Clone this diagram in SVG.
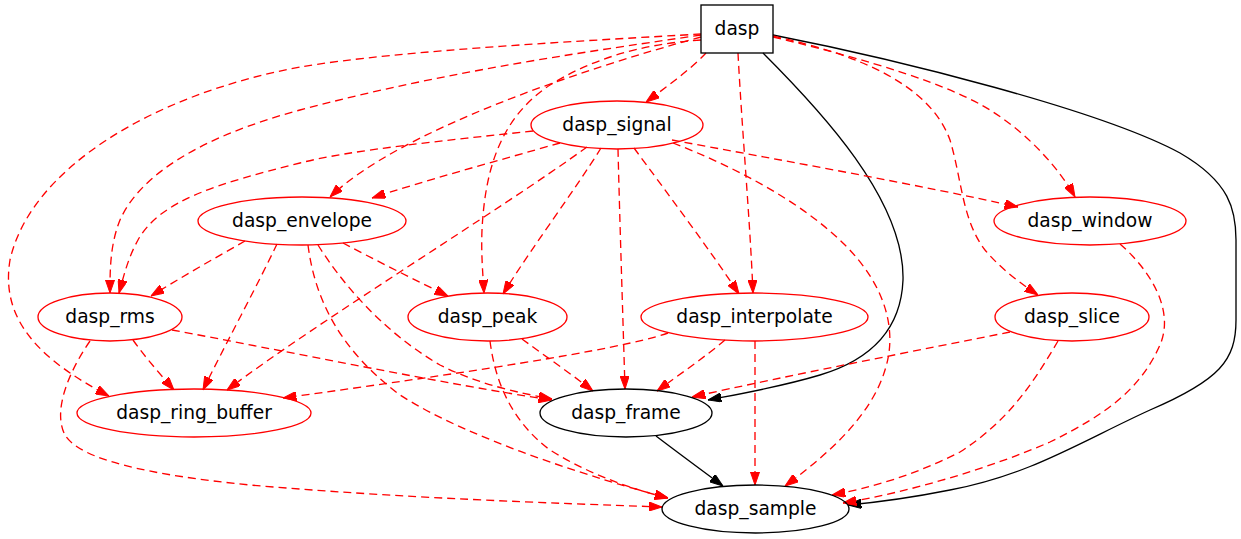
<svg xmlns="http://www.w3.org/2000/svg" width="1241" height="539" viewBox="0 0 1241 539">
<style>
text{font-family:"DejaVu Sans","Liberation Sans",sans-serif;font-size:18.67px;text-anchor:middle;fill:#000}
.r{fill:none;stroke:#ff0000;stroke-width:1.33}
.k{fill:none;stroke:#000;stroke-width:1.33}
.er{fill:none;stroke:#ff0000;stroke-width:1.33;stroke-dasharray:8,5;marker-end:url(#ar)}
.ek{fill:none;stroke:#000;stroke-width:1.33;marker-end:url(#ak)}
</style>
<defs>
<marker id="ar" viewBox="0 0 13.33 9.33" markerUnits="userSpaceOnUse" markerWidth="13.33" markerHeight="9.33" refX="13.33" refY="4.67" orient="auto">
<path d="M0,0 L13.33,4.67 L0,9.33 z" fill="#ff0000" stroke="#ff0000" stroke-width="1"/>
</marker>
<marker id="ak" viewBox="0 0 13.33 9.33" markerUnits="userSpaceOnUse" markerWidth="13.33" markerHeight="9.33" refX="13.33" refY="4.67" orient="auto">
<path d="M0,0 L13.33,4.67 L0,9.33 z" fill="#000" stroke="#000" stroke-width="1"/>
</marker>
</defs>
<rect width="1241" height="539" fill="#fff"/>
<g id="connectors">
<path class="er" d="M706,53 C690,70 665,88 646,102"/>
<path class="er" d="M701,37 C580,70 400,130 330,197"/>
<path class="er" d="M701,35 C600,50 450,70 300,110 C200,137 140,175 120,220 C110,245 110,270 110,293"/>
<path class="er" d="M701,34 C600,40 400,50 300,67 C150,95 30,170 10,260 C0,320 40,360 109,396"/>
<path class="er" d="M701,40 C640,44 590,60 550,85 C500,118 485,170 482,230 C481,255 483,275 484,293"/>
<path class="er" d="M738,53 C742,130 750,220 753,293"/>
<path class="ek" d="M763,53 C820,110 905,200 903,280 C901,330 870,360 820,375 C780,387 745,393 708,400"/>
<path class="ek" d="M773,35 C900,60 1100,110 1180,153 C1230,182 1236,210 1236,240 L1236,320 C1236,360 1220,380 1150,410 C1080,442 1030,475 950,490 C910,498 880,502 848,505"/>
<path class="er" d="M773,37 C870,60 950,85 990,110 C1030,135 1060,170 1075,197"/>
<path class="er" d="M773,36 C860,55 930,85 950,140 C962,180 962,220 985,250 C1000,268 1020,283 1038,295"/>
<path class="er" d="M560,143 C500,160 420,182 372,198"/>
<path class="er" d="M533,131 C450,140 350,150 300,163 C220,183 160,200 138,240 C128,258 124,275 119,293"/>
<path class="er" d="M587,147 C500,210 320,320 227,390"/>
<path class="er" d="M601,148 C575,190 530,250 503,294"/>
<path class="er" d="M618,149 C620,230 623,320 625,389"/>
<path class="er" d="M634,148 C665,190 710,250 739,294"/>
<path class="er" d="M672,140 C780,160 920,185 1018,207"/>
<path class="er" d="M673,143 C730,165 800,200 845,245 C885,285 898,330 885,370 C870,420 820,460 785,486"/>
<path class="er" d="M245,241 C215,258 180,278 151,296"/>
<path class="er" d="M277,244 C255,290 225,345 203,390"/>
<path class="er" d="M343,243 C375,260 415,280 448,296"/>
<path class="er" d="M318,245 C340,280 380,330 440,365 C480,385 520,393 552,399"/>
<path class="er" d="M308,245 C315,300 340,350 400,395 C470,440 600,480 668,498"/>
<path class="er" d="M133,340 C145,357 160,374 174,390"/>
<path class="er" d="M172,330 C280,350 450,385 552,400"/>
<path class="er" d="M90,341 C70,370 52,410 65,435 C80,460 150,475 250,485 C400,498 550,503 662,507"/>
<path class="er" d="M522,339 C545,356 570,373 593,391"/>
<path class="er" d="M490,341 C495,380 510,420 550,450 C590,475 635,490 668,498"/>
<path class="er" d="M668,333 C620,350 450,375 283,398"/>
<path class="er" d="M725,340 C705,357 680,374 657,391"/>
<path class="er" d="M755,341 L755,485"/>
<path class="er" d="M1010,332 C920,350 790,375 692,397"/>
<path class="er" d="M1058,341 C1035,380 1010,420 960,452 C915,475 870,488 832,495"/>
<path class="er" d="M1120,244 C1150,270 1175,310 1160,345 C1140,390 1105,415 1050,442 C990,468 910,492 843,503"/>
<path class="ek" d="M656,436 C677,452 700,469 723,486"/>
</g>
<g id="dasp"><rect class="k" x="701" y="5" width="72" height="48"/><text x="737" y="34.6">dasp</text></g>
<g id="dasp_signal"><ellipse class="r" cx="617" cy="125" rx="86" ry="24"/><text x="617" y="130.6">dasp_signal</text></g>
<g id="dasp_envelope"><ellipse class="r" cx="302" cy="221" rx="104" ry="24"/><text x="302" y="226.6">dasp_envelope</text></g>
<g id="dasp_window"><ellipse class="r" cx="1090" cy="221" rx="96" ry="24"/><text x="1090" y="226.6">dasp_window</text></g>
<g id="dasp_rms"><ellipse class="r" cx="110" cy="317" rx="72" ry="24"/><text x="110" y="322.6">dasp_rms</text></g>
<g id="dasp_peak"><ellipse class="r" cx="487.5" cy="317" rx="79.5" ry="24"/><text x="487.5" y="322.6">dasp_peak</text></g>
<g id="dasp_interpolate"><ellipse class="r" cx="754.5" cy="317" rx="113.5" ry="24"/><text x="754.5" y="322.6">dasp_interpolate</text></g>
<g id="dasp_slice"><ellipse class="r" cx="1072" cy="317" rx="77" ry="24"/><text x="1072" y="322.6">dasp_slice</text></g>
<g id="dasp_ring_buffer"><ellipse class="r" cx="194" cy="413" rx="117" ry="24"/><text x="194" y="418.6">dasp_ring_buffer</text></g>
<g id="dasp_frame"><ellipse class="k" cx="626" cy="413" rx="86" ry="24"/><text x="626" y="418.6">dasp_frame</text></g>
<g id="dasp_sample"><ellipse class="k" cx="755.5" cy="509" rx="93.5" ry="24"/><text x="755.5" y="514.6">dasp_sample</text></g>
</svg>
